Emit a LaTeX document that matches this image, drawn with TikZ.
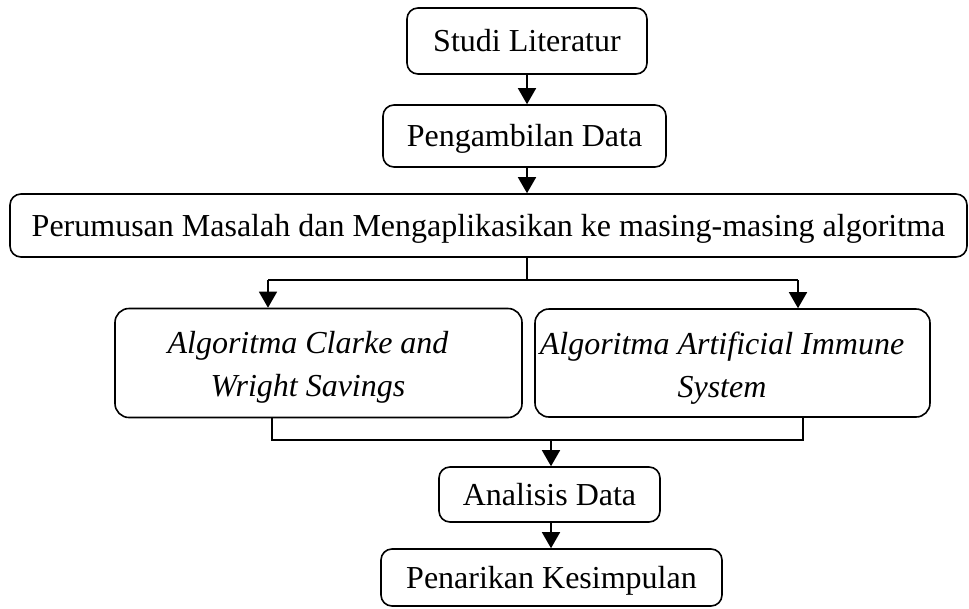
\documentclass[tikz,border=0pt]{standalone}
\usepackage{fontspec}
\setmainfont{Liberation Serif}
\usetikzlibrary{arrows.meta}
\begin{document}
\begin{tikzpicture}[x=1pt,y=-1pt,
  box/.style={draw, line width=1.6pt, rounded corners=11pt, inner sep=0pt,
    text height=27.5pt, text depth=6.4pt, font=\fontsize{32}{43}\selectfont},
  bigbox/.style={box, rounded corners=14pt},
  itext/.style={align=center, inner sep=0pt, font=\fontsize{32}{43}\selectfont\itshape},
  conn/.style={line width=1.6pt},
  arr/.style={conn, -{Triangle[width=18pt,length=16pt]}}]
\useasboundingbox (0,0) rectangle (969,608);
\node[box, minimum width=240pt, minimum height=66pt] (b1) at (527,41) {Studi Literatur};
\node[box, minimum width=283pt, minimum height=62pt] (b2) at (524.5,136) {Pengambilan Data};
\node[box, minimum width=957pt, minimum height=63pt] (b3) at (488.5,225.5) {Perumusan Masalah dan Mengaplikasikan ke masing-masing algoritma};
\node[bigbox, minimum width=407pt, minimum height=109pt] (b4) at (318.5,363) {};
\node[bigbox, minimum width=395pt, minimum height=108pt] (b5) at (732.5,363) {};
\node[itext] (t4) at (308,367) {Algoritma Clarke and\\Wright Savings};
\node[itext] (t5) at (722,368) {Algoritma Artificial Immune\\System};
\node[box, minimum width=221pt, minimum height=55pt] (b6) at (549.5,494.5) {Analisis Data};
\node[box, minimum width=341pt, minimum height=57pt] (b7) at (551.5,577.5) {Penarikan Kesimpulan};
\coordinate (fk) at (527,280);
\coordinate (fl) at (268,280);
\coordinate (fr) at (798,280);
\coordinate (jl) at (272,440);
\coordinate (jr) at (803,440);
\coordinate (jm) at (551,440);
\draw[arr] (b1.south) -- (b1.south |- b2.north);
\draw[arr] (b2.south -| b1.south) -- (b1.south |- b3.north);
\draw[conn] (b3.south -| fk) -- (fk);
\draw[conn] (fl) -- (fr);
\draw[arr] (fl) -- (fl |- b4.north);
\draw[arr] (fr) -- (fr |- b5.north);
\draw[conn] (jl |- b4.south) -- (jl) -- (jr) -- (jr |- b5.south);
\draw[arr] (jm) -- (jm |- b6.north);
\draw[arr] (b6.south -| jm) -- (jm |- b7.north);
\end{tikzpicture}
\end{document}
